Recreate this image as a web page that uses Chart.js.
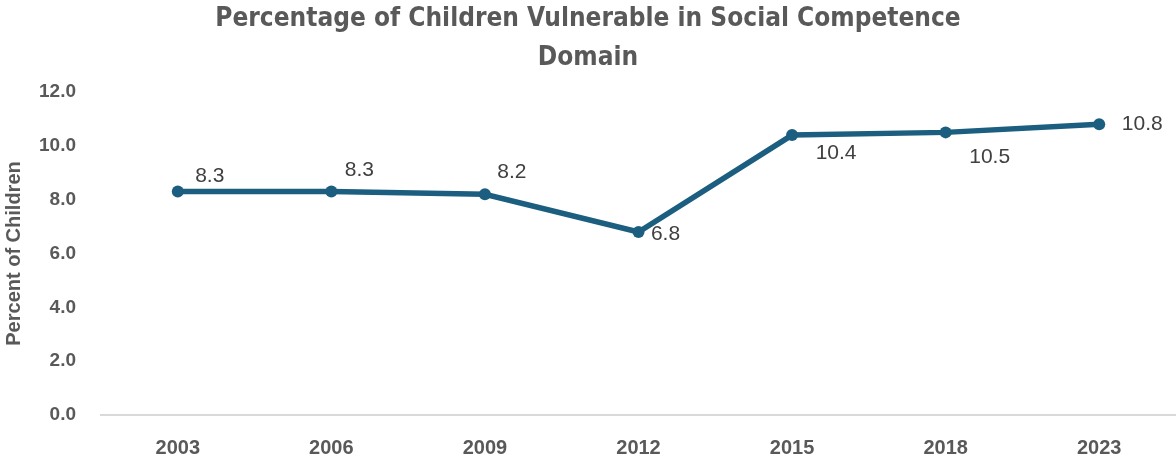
<!DOCTYPE html>
<html>
<head>
<meta charset="utf-8">
<script src="https://cdn.jsdelivr.net/npm/chart.js@4/dist/chart.umd.min.js"></script>
<style>
  html, body { margin: 0; padding: 0; background: #ffffff; overflow: hidden; }
  canvas { display: block; }
</style>
</head>
<body>
<canvas id="chart" width="1176" height="458"></canvas>
<script>
// Survey years and share of children vulnerable in the social competence domain (%)
const years = ['2003', '2006', '2009', '2012', '2015', '2018', '2023'];
const vulnerablePct = [8.3, 8.3, 8.2, 6.8, 10.4, 10.5, 10.8];
const yTicks = [0, 2, 4, 6, 8, 10, 12];

// Where each value label sits relative to its point (pixels)
const labelOffsets = [
  [32, -15], [28, -21], [27, -22], [27, 2], [44, 18], [44, 25], [43, 0]
];

const LINE_COLOR = '#1b5e7f';
const TEXT_GREY = '#595959';

const valueLabels = {
  id: 'valueLabels',
  afterDatasetsDraw(chart) {
    const ctx = chart.ctx;
    const meta = chart.getDatasetMeta(0);
    ctx.save();
    ctx.font = '21px "Liberation Sans", Arial, sans-serif';
    ctx.fillStyle = '#404040';
    ctx.textAlign = 'center';
    ctx.textBaseline = 'middle';
    meta.data.forEach((pt, i) => {
      const v = chart.data.datasets[0].data[i];
      const [dx, dy] = labelOffsets[i];
      ctx.fillText(v.toFixed(1), pt.x + dx, pt.y + dy);
    });
    ctx.restore();
  }
};

new Chart(document.getElementById('chart'), {
  type: 'line',
  data: {
    labels: years,
    datasets: [{
      data: vulnerablePct,
      borderColor: LINE_COLOR,
      backgroundColor: LINE_COLOR,
      borderWidth: 5.5,
      pointRadius: 6,
      pointHoverRadius: 6,
      pointBackgroundColor: LINE_COLOR,
      pointBorderWidth: 0,
      tension: 0,
      fill: false,
      clip: false
    }]
  },
  options: {
    responsive: false,
    animation: false,
    layout: { autoPadding: false, padding: { left: 0, right: 0, top: 0, bottom: 0 } },
    plugins: {
      legend: { display: false },
      tooltip: { enabled: false },
      title: {
        display: true,
        text: ['Percentage of Children Vulnerable in Social Competence', 'Domain'],
        color: TEXT_GREY,
        font: { family: '"Liberation Sans Narrow", "DejaVu Sans Condensed", Arial, sans-serif', size: 26, weight: 'bold', lineHeight: 1.5 },
        padding: { top: 0, bottom: 14 }
      }
    },
    scales: {
      x: {
        offset: true,
        grid: { display: false, drawTicks: false },
        border: { display: true, color: '#d9d9d9', width: 2 },
        ticks: {
          color: TEXT_GREY,
          padding: 21,
          font: { family: '"Liberation Sans", Arial, sans-serif', size: 20, weight: 'bold' }
        },
        afterFit(scale) { scale.height = 43; scale.paddingLeft = 0; scale.paddingRight = 0; }
      },
      y: {
        min: 0,
        max: 12,
        afterBuildTicks(scale) { scale.ticks = yTicks.map(v => ({ value: v })); },
        grid: { display: false, drawTicks: false },
        border: { display: false },
        ticks: {
          color: TEXT_GREY,
          padding: 25,
          font: { family: '"Liberation Sans", Arial, sans-serif', size: 19, weight: 'bold' },
          callback: v => Number(v).toFixed(1)
        },
        title: {
          display: true,
          text: 'Percent of Children',
          color: TEXT_GREY,
          padding: { top: 2, bottom: 0 },
          font: { family: '"Liberation Sans", Arial, sans-serif', size: 20, weight: 'bold', lineHeight: 1.2 }
        },
        afterFit(scale) { scale.width = 101; }
      }
    }
  },
  plugins: [valueLabels]
});
</script>
</body>
</html>
